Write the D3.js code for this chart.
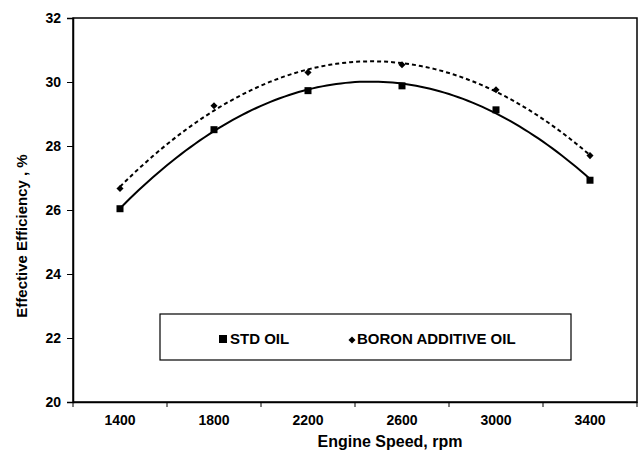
<!DOCTYPE html>
<html>
<head>
<meta charset="utf-8">
<script src="https://cdn.jsdelivr.net/npm/d3@7"></script>
<style>
  body { margin: 0; background: #fff; }
  text { font-family: "Liberation Sans", Arial, sans-serif; font-weight: bold; }
</style>
</head>
<body>
<div id="chart"></div>
<script>
const speeds = ['1400', '1800', '2200', '2600', '3000', '3400'];
const stdOil = [26.04, 28.51, 29.73, 29.88, 29.13, 26.93];
const boronOil = [26.67, 29.26, 30.30, 30.54, 29.76, 27.70];
const yTicks = [20, 22, 24, 26, 28, 30, 32];

const width = 641, height = 450;
const margin = { top: 18, right: 4, bottom: 48, left: 73 };

const svg = d3.select('#chart').append('svg')
    .attr('width', width)
    .attr('height', height);

const x = d3.scaleBand()
    .domain(speeds)
    .range([margin.left, width - margin.right]);

const y = d3.scaleLinear()
    .domain([20, 32])
    .range([height - margin.bottom, margin.top]);

// index -> pixel, for the trend curves
const xi = d3.scaleLinear()
    .domain([0, speeds.length - 1])
    .range([x(speeds[0]) + x.bandwidth() / 2, x(speeds[speeds.length - 1]) + x.bandwidth() / 2]);

// plot border
svg.append('rect')
    .attr('x', margin.left)
    .attr('y', margin.top)
    .attr('width', width - margin.right - margin.left)
    .attr('height', height - margin.bottom - margin.top)
    .attr('fill', 'none')
    .attr('stroke', '#000')
    .attr('stroke-width', 1.5);

// y axis
const yAxis = svg.append('g')
    .attr('transform', `translate(${margin.left},0)`)
    .call(d3.axisLeft(y).tickValues(yTicks).tickSize(6).tickPadding(6));
yAxis.select('.domain').attr('stroke-width', 1.5);
yAxis.selectAll('text').attr('font-size', 14).attr('fill', '#000');

// x axis: labels centred, ticks on the band edges
const xAxis = svg.append('g')
    .attr('transform', `translate(0,${height - margin.bottom})`)
    .call(d3.axisBottom(x).tickSize(0).tickPadding(13));
xAxis.select('.domain').attr('stroke-width', 1.5);
xAxis.selectAll('text').attr('font-size', 14).attr('fill', '#000');

const edges = speeds.map(s => x(s)).concat([x.range()[1]]);
xAxis.selectAll('.edge')
    .data(edges)
    .enter()
    .append('line')
    .attr('x1', d => d)
    .attr('x2', d => d)
    .attr('y1', 0)
    .attr('y2', 5)
    .attr('stroke', '#000');

// axis titles
svg.append('text')
    .attr('x', 390)
    .attr('y', 447)
    .attr('text-anchor', 'middle')
    .attr('font-size', 16)
    .text('Engine Speed, rpm');

svg.append('text')
    .attr('transform', 'translate(27,236) rotate(-90)')
    .attr('text-anchor', 'middle')
    .attr('font-size', 15)
    .text('Effective Efficiency , %');

// least squares 2nd order polynomial (trend line)
function quadFit(vals) {
    let s = [0, 0, 0, 0, 0], t = [0, 0, 0];
    vals.forEach((v, i) => {
        const p = i + 1;
        for (let k = 0; k < 5; k++) s[k] += Math.pow(p, k);
        for (let k = 0; k < 3; k++) t[k] += v * Math.pow(p, k);
    });
    const m = [[s[0], s[1], s[2], t[0]], [s[1], s[2], s[3], t[1]], [s[2], s[3], s[4], t[2]]];
    for (let c = 0; c < 3; c++) {
        for (let r = c + 1; r < 3; r++) {
            const f = m[r][c] / m[c][c];
            for (let k = c; k < 4; k++) m[r][k] -= f * m[c][k];
        }
    }
    const b = [0, 0, 0];
    for (let r = 2; r >= 0; r--) {
        let sum = m[r][3];
        for (let k = r + 1; k < 3; k++) sum -= m[r][k] * b[k];
        b[r] = sum / m[r][r];
    }
    return p => b[0] + b[1] * (p + 1) + b[2] * (p + 1) * (p + 1);
}

function trendPoints(vals) {
    const f = quadFit(vals);
    return d3.range(0, vals.length - 1 + 0.001, 0.05).map(p => [xi(p), y(f(p))]);
}

const line = d3.line();

svg.append('path')
    .attr('d', line(trendPoints(stdOil)))
    .attr('fill', 'none')
    .attr('stroke', '#000')
    .attr('stroke-width', 2);

svg.append('path')
    .attr('d', line(trendPoints(boronOil)))
    .attr('fill', 'none')
    .attr('stroke', '#000')
    .attr('stroke-width', 2)
    .attr('stroke-dasharray', '4,3');

// markers
svg.selectAll('rect.std')
    .data(stdOil)
    .enter()
    .append('rect')
    .attr('class', 'std')
    .attr('x', (d, i) => x(speeds[i]) + x.bandwidth() / 2 - 3.5)
    .attr('y', d => y(d) - 3.5)
    .attr('width', 7)
    .attr('height', 7)
    .attr('fill', '#000');

const diamond = d3.symbol().type(d3.symbolDiamond2).size(32);
svg.selectAll('path.boron')
    .data(boronOil)
    .enter()
    .append('path')
    .attr('class', 'boron')
    .attr('d', diamond)
    .attr('transform', (d, i) => `translate(${x(speeds[i]) + x.bandwidth() / 2},${y(d)})`)
    .attr('fill', '#000');

// legend
const legend = svg.append('g');
legend.append('rect')
    .attr('x', 160)
    .attr('y', 314)
    .attr('width', 411)
    .attr('height', 46)
    .attr('fill', '#fff')
    .attr('stroke', '#000')
    .attr('stroke-width', 1.2);

legend.append('rect')
    .attr('x', 219)
    .attr('y', 335)
    .attr('width', 8)
    .attr('height', 8)
    .attr('fill', '#000');
legend.append('text')
    .attr('x', 230)
    .attr('y', 344)
    .attr('font-size', 15)
    .text('STD OIL');

legend.append('path')
    .attr('d', diamond)
    .attr('transform', 'translate(352,340)')
    .attr('fill', '#000');
legend.append('text')
    .attr('x', 357)
    .attr('y', 344)
    .attr('font-size', 15)
    .text('BORON ADDITIVE OIL');
</script>
</body>
</html>
